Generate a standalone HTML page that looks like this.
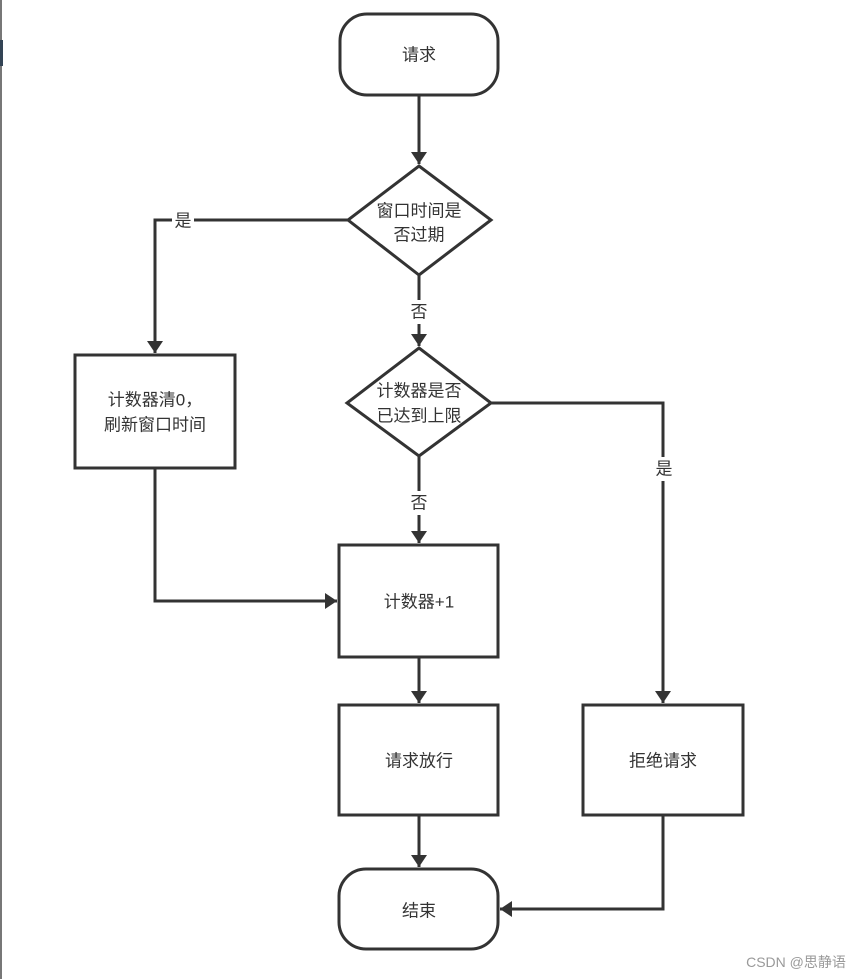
<!DOCTYPE html>
<html><head><meta charset="utf-8"><style>
html,body{margin:0;padding:0;background:#fff;}
svg{display:block;}
text{font-family:"Liberation Sans","Noto Sans CJK SC",sans-serif;fill:#333;font-size:17px;text-anchor:middle;dominant-baseline:central;}
</style></head><body>
<svg width="863" height="979" viewBox="0 0 863 979" xmlns="http://www.w3.org/2000/svg">
<defs><marker id="a" markerWidth="12" markerHeight="16" refX="12" refY="8" orient="auto" markerUnits="userSpaceOnUse"><path d="M0,0 L12,8 L0,16 Z" fill="#333"/></marker></defs>
<rect x="0" y="0" width="2" height="979" fill="#777"/>
<rect x="0" y="40" width="3" height="26" fill="#345"/>
<g fill="none" stroke="#333" stroke-width="3">
<rect x="340" y="14" width="158" height="81" rx="27"/>
<polygon points="419,166 491,220 419,275 348,220"/>
<rect x="75" y="355" width="160" height="113"/>
<polygon points="419,348 491,403 419,456 347,403"/>
<rect x="339" y="545" width="159" height="112"/>
<rect x="339" y="705" width="159" height="110"/>
<rect x="583" y="705" width="160" height="110"/>
<rect x="339" y="869" width="159" height="80" rx="27"/>
<line x1="419" y1="95" x2="419" y2="164" marker-end="url(#a)"/>
<polyline points="348,220 155,220 155,353" marker-end="url(#a)"/>
<line x1="419" y1="275" x2="419" y2="346" marker-end="url(#a)"/>
<polyline points="491,403 663,403 663,703" marker-end="url(#a)"/>
<line x1="419" y1="456" x2="419" y2="543" marker-end="url(#a)"/>
<polyline points="155,468 155,601 337,601" marker-end="url(#a)"/>
<line x1="419" y1="657" x2="419" y2="703" marker-end="url(#a)"/>
<line x1="419" y1="815" x2="419" y2="867" marker-end="url(#a)"/>
<polyline points="663,815 663,909 500,909" marker-end="url(#a)"/>
</g>
<rect x="172" y="210" width="22" height="22" fill="#fff"/>
<rect x="408" y="300" width="22" height="24" fill="#fff"/>
<rect x="653" y="457" width="22" height="24" fill="#fff"/>
<rect x="408" y="491" width="22" height="24" fill="#fff"/>
<text x="419" y="55">请求</text>
<text x="419" y="211">窗口时间是</text>
<text x="419" y="235">否过期</text>
<text x="183" y="221">是</text>
<text x="419" y="312">否</text>
<text x="155" y="400">计数器清0，</text>
<text x="155" y="425">刷新窗口时间</text>
<text x="419" y="391">计数器是否</text>
<text x="419" y="416">已达到上限</text>
<text x="664" y="469">是</text>
<text x="419" y="503">否</text>
<text x="419" y="602">计数器+1</text>
<text x="419" y="761">请求放行</text>
<text x="663" y="761">拒绝请求</text>
<text x="419" y="911">结束</text>
<text x="796" y="962" style="font-size:14px;fill:#999">CSDN @思静语</text>
</svg>
</body></html>
